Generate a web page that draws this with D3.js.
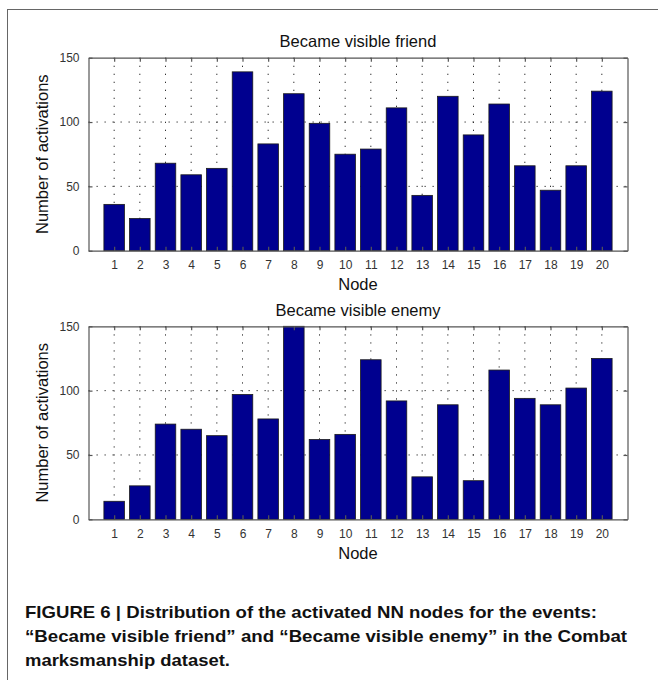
<!DOCTYPE html>
<html>
<head>
<meta charset="utf-8">
<script src="https://cdn.jsdelivr.net/npm/d3@7"></script>
<style>
  body { margin: 0; background: #fff; }
  svg { display: block; }
</style>
</head>
<body>
<svg id="fig" width="658" height="680"></svg>
<script>
// node ids and activation counts
const nodes = [1, 2, 3, 4, 5, 6, 7, 8, 9, 10, 11, 12, 13, 14, 15, 16, 17, 18, 19, 20]
const friendCounts = [36, 25, 68, 59, 64, 139, 83, 122, 99, 75, 79, 111, 43, 120, 90, 114, 66, 47, 66, 124]
const enemyCounts = [14, 26, 74, 70, 65, 97, 78, 150, 62, 66, 124, 92, 33, 89, 30, 116, 94, 89, 102, 125]
const yTicks = [0, 50, 100, 150]
const titles = ['Became visible friend', 'Became visible enemy']
const captionLines = [
  'FIGURE 6 | Distribution of the activated NN nodes for the events:',
  '\u201CBecame visible friend\u201D and \u201CBecame visible enemy\u201D in the Combat',
  'marksmanship dataset.',
]
const captionWidths = [572, 602, 205]

const font = "'Liberation Sans', Arial, Helvetica, sans-serif"
const svg = d3.select('#fig')

// outer frame of the figure box
svg.append('rect')
  .attr('x', 7.5).attr('y', 9.5)
  .attr('width', 700).attr('height', 700)
  .attr('fill', 'none').attr('stroke', '#666').attr('stroke-width', 1)

const left = 88.5
const right = 627.5
const plotH = 193

const x = d3.scaleLinear().domain([0, 21]).range([left, right])
const barW = (x(1) - x(0)) * 0.8

const drawPanel = (top, values, title) => {
  const y = d3.scaleLinear().domain([0, 150]).range([top + plotH, top])
  const g = svg.append('g')

  // dotted grid
  g.selectAll('.vgrid').data(nodes).join('line')
    .attr('x1', (d) => x(d)).attr('x2', (d) => x(d))
    .attr('y1', top).attr('y2', top + plotH)
    .attr('stroke', '#333').attr('stroke-width', 1)
    .attr('stroke-dasharray', '1.3,6.7')
  g.selectAll('.hgrid').data(yTicks.slice(1, -1)).join('line')
    .attr('x1', left).attr('x2', right)
    .attr('y1', (d) => y(d)).attr('y2', (d) => y(d))
    .attr('stroke', '#333').attr('stroke-width', 1)
    .attr('stroke-dasharray', '1.3,6.7')

  // bars
  g.selectAll('.bar').data(values).join('rect')
    .attr('x', (d, i) => x(nodes[i]) - barW / 2)
    .attr('y', (d) => y(Math.min(d, 150)))
    .attr('width', barW)
    .attr('height', (d) => y(0) - y(Math.min(d, 150)))
    .attr('fill', '#00008f')
    .attr('stroke', '#1a1a1a').attr('stroke-width', 0.8)

  // axes with inward ticks, box on all sides
  const tickColor = '#555'
  g.append('g').attr('transform', `translate(0,${top + plotH})`)
    .call(d3.axisBottom(x).tickValues(nodes).tickSizeInner(-4).tickSizeOuter(0).tickPadding(10))
  g.append('g').attr('transform', `translate(0,${top})`)
    .call(d3.axisTop(x).tickValues(nodes).tickSizeInner(-4).tickSizeOuter(0).tickFormat(''))
  g.append('g').attr('transform', `translate(${left},0)`)
    .call(d3.axisLeft(y).tickValues(yTicks).tickSizeInner(-4).tickSizeOuter(0).tickPadding(9))
  g.append('g').attr('transform', `translate(${right},0)`)
    .call(d3.axisRight(y).tickValues(yTicks).tickSizeInner(-4).tickSizeOuter(0).tickFormat(''))

  g.selectAll('.domain').attr('stroke', tickColor).attr('stroke-width', 1.2)
  g.selectAll('.tick line').attr('stroke', tickColor).attr('stroke-width', 1.2)
  g.selectAll('.tick text')
    .attr('fill', '#333')
    .style('font-family', font)
    .style('font-size', '12px')

  // title and axis labels
  g.append('text')
    .attr('x', (left + right) / 2).attr('y', top - 10.4)
    .attr('text-anchor', 'middle')
    .style('font-family', font)
    .style('font-size', '16.5px').attr('fill', '#111')
    .text(title)
  g.append('text')
    .attr('x', (left + right) / 2).attr('y', top + plotH + 39.5)
    .attr('text-anchor', 'middle')
    .style('font-family', font)
    .style('font-size', '16.5px').attr('fill', '#111')
    .text('Node')
  g.append('text')
    .attr('transform', `translate(47.5,${top + plotH / 2}) rotate(-90)`)
    .attr('text-anchor', 'middle')
    .style('font-family', font)
    .style('font-size', '16.5px').attr('fill', '#111')
    .text('Number of activations')
}

drawPanel(57.7, friendCounts, titles[0])
drawPanel(326.3, enemyCounts, titles[1])

// caption, condensed bold
svg.append('g').selectAll('text').data(captionLines).join('text')
  .attr('x', 25)
  .attr('y', (d, i) => 618 + i * 24)
  .attr('textLength', (d, i) => captionWidths[i])
  .attr('lengthAdjust', 'spacingAndGlyphs')
  .style('font-family', font)
  .style('font-weight', 'bold')
  .style('font-size', '17px')
  .attr('fill', '#111')
  .text((d) => d)
</script>
</body>
</html>
